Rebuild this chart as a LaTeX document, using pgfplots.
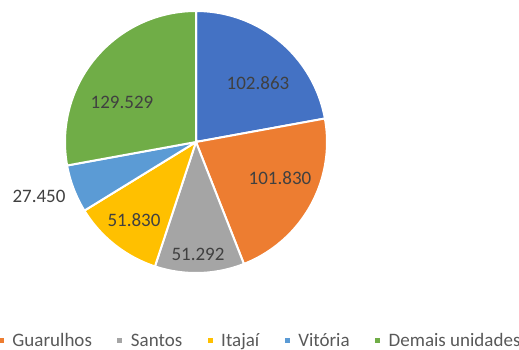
\documentclass[border=0pt]{standalone}
\usepackage{pgfplots}
\pgfplotsset{compat=1.18}
\usepackage{fontspec}
\setmainfont{Carlito}

\definecolor{pieblue}{HTML}{4472C4}
\definecolor{pieorange}{HTML}{ED7D31}
\definecolor{piegray}{HTML}{A5A5A5}
\definecolor{pieyellow}{HTML}{FFC000}
\definecolor{pielblue}{HTML}{5B9BD5}
\definecolor{piegreen}{HTML}{70AD47}
\definecolor{lbltext}{HTML}{404040}
\definecolor{legtext}{HTML}{595959}

% slice values (clockwise from 12 o'clock)
\newcommand\vA{102.863}% (first, legend entry cut off)
\newcommand\vB{101.830}% Guarulhos
\newcommand\vC{51.292}%  Santos
\newcommand\vD{51.830}%  Itajai
\newcommand\vE{27.450}%  Vitoria
\newcommand\vF{129.529}% Demais unidades

\pgfmathsetmacro\total{\vA+\vB+\vC+\vD+\vE+\vF}
\pgfmathsetmacro\aA{90}
\pgfmathsetmacro\aB{\aA-360*(\vA/\total)}
\pgfmathsetmacro\aC{\aB-360*(\vB/\total)}
\pgfmathsetmacro\aD{\aC-360*(\vC/\total)}
\pgfmathsetmacro\aE{\aD-360*(\vD/\total)}
\pgfmathsetmacro\aF{\aE-360*(\vE/\total)}
\pgfmathsetmacro\aG{\aF-360*(\vF/\total)}

% pie centre and radius in picture pixels
\newcommand\cx{196}
\newcommand\cy{142}
\newcommand\rr{131}

\begin{document}
\begin{tikzpicture}
\begin{axis}[
    width=519pt, height=350pt, scale only axis,
    xmin=0, xmax=519, ymin=0, ymax=350,
    y dir=reverse,
    hide axis, clip=false,
    legend columns=-1,
    legend image code/.code={\fill[#1] (0pt,-3.5pt) rectangle (7pt,3.5pt);},
    legend style={
        at={(axis cs:-3,340)}, anchor=west, overlay,
        draw=none, fill=none, inner sep=0pt, outer sep=0pt,
        font=\fontsize{19}{22}\selectfont, text=legtext,
        nodes={inner sep=0pt, text depth=0pt},
        /tikz/every odd column/.append style={column sep=6.5pt},
        /tikz/every even column/.append style={column sep=23.5pt},
    },
    every axis plot/.append style={draw=white, line width=2pt, samples=60},
]
\path (axis cs:0,0) rectangle (axis cs:519,350);
\addplot[fill=pieblue, domain=\aB:\aA, forget plot]
    ({\cx+\rr*cos(x)},{\cy-\rr*sin(x)}) -- (axis cs:\cx,\cy) -- cycle;
\addplot[fill=pieorange, domain=\aC:\aB]
    ({\cx+\rr*cos(x)},{\cy-\rr*sin(x)}) -- (axis cs:\cx,\cy) -- cycle;
\addplot[fill=piegray, domain=\aD:\aC]
    ({\cx+\rr*cos(x)},{\cy-\rr*sin(x)}) -- (axis cs:\cx,\cy) -- cycle;
\addplot[fill=pieyellow, domain=\aE:\aD]
    ({\cx+\rr*cos(x)},{\cy-\rr*sin(x)}) -- (axis cs:\cx,\cy) -- cycle;
\addplot[fill=pielblue, domain=\aF:\aE]
    ({\cx+\rr*cos(x)},{\cy-\rr*sin(x)}) -- (axis cs:\cx,\cy) -- cycle;
\addplot[fill=piegreen, domain=\aG:\aF]
    ({\cx+\rr*cos(x)},{\cy-\rr*sin(x)}) -- (axis cs:\cx,\cy) -- cycle;
\legend{Guarulhos, Santos, Itajaí, Vitória, Demais unidades}

\begin{scope}[every node/.style={text=lbltext, font=\fontsize{19}{22}\selectfont}]
\node at (axis cs:258,83)  {102.863};
\node at (axis cs:280,178) {101.830};
\node at (axis cs:198,254) {51.292};
\node at (axis cs:134,220) {51.830};
\node at (axis cs:39,196)  {27.450};
\node at (axis cs:122,102) {129.529};
\end{scope}
\end{axis}
\end{tikzpicture}
\end{document}
